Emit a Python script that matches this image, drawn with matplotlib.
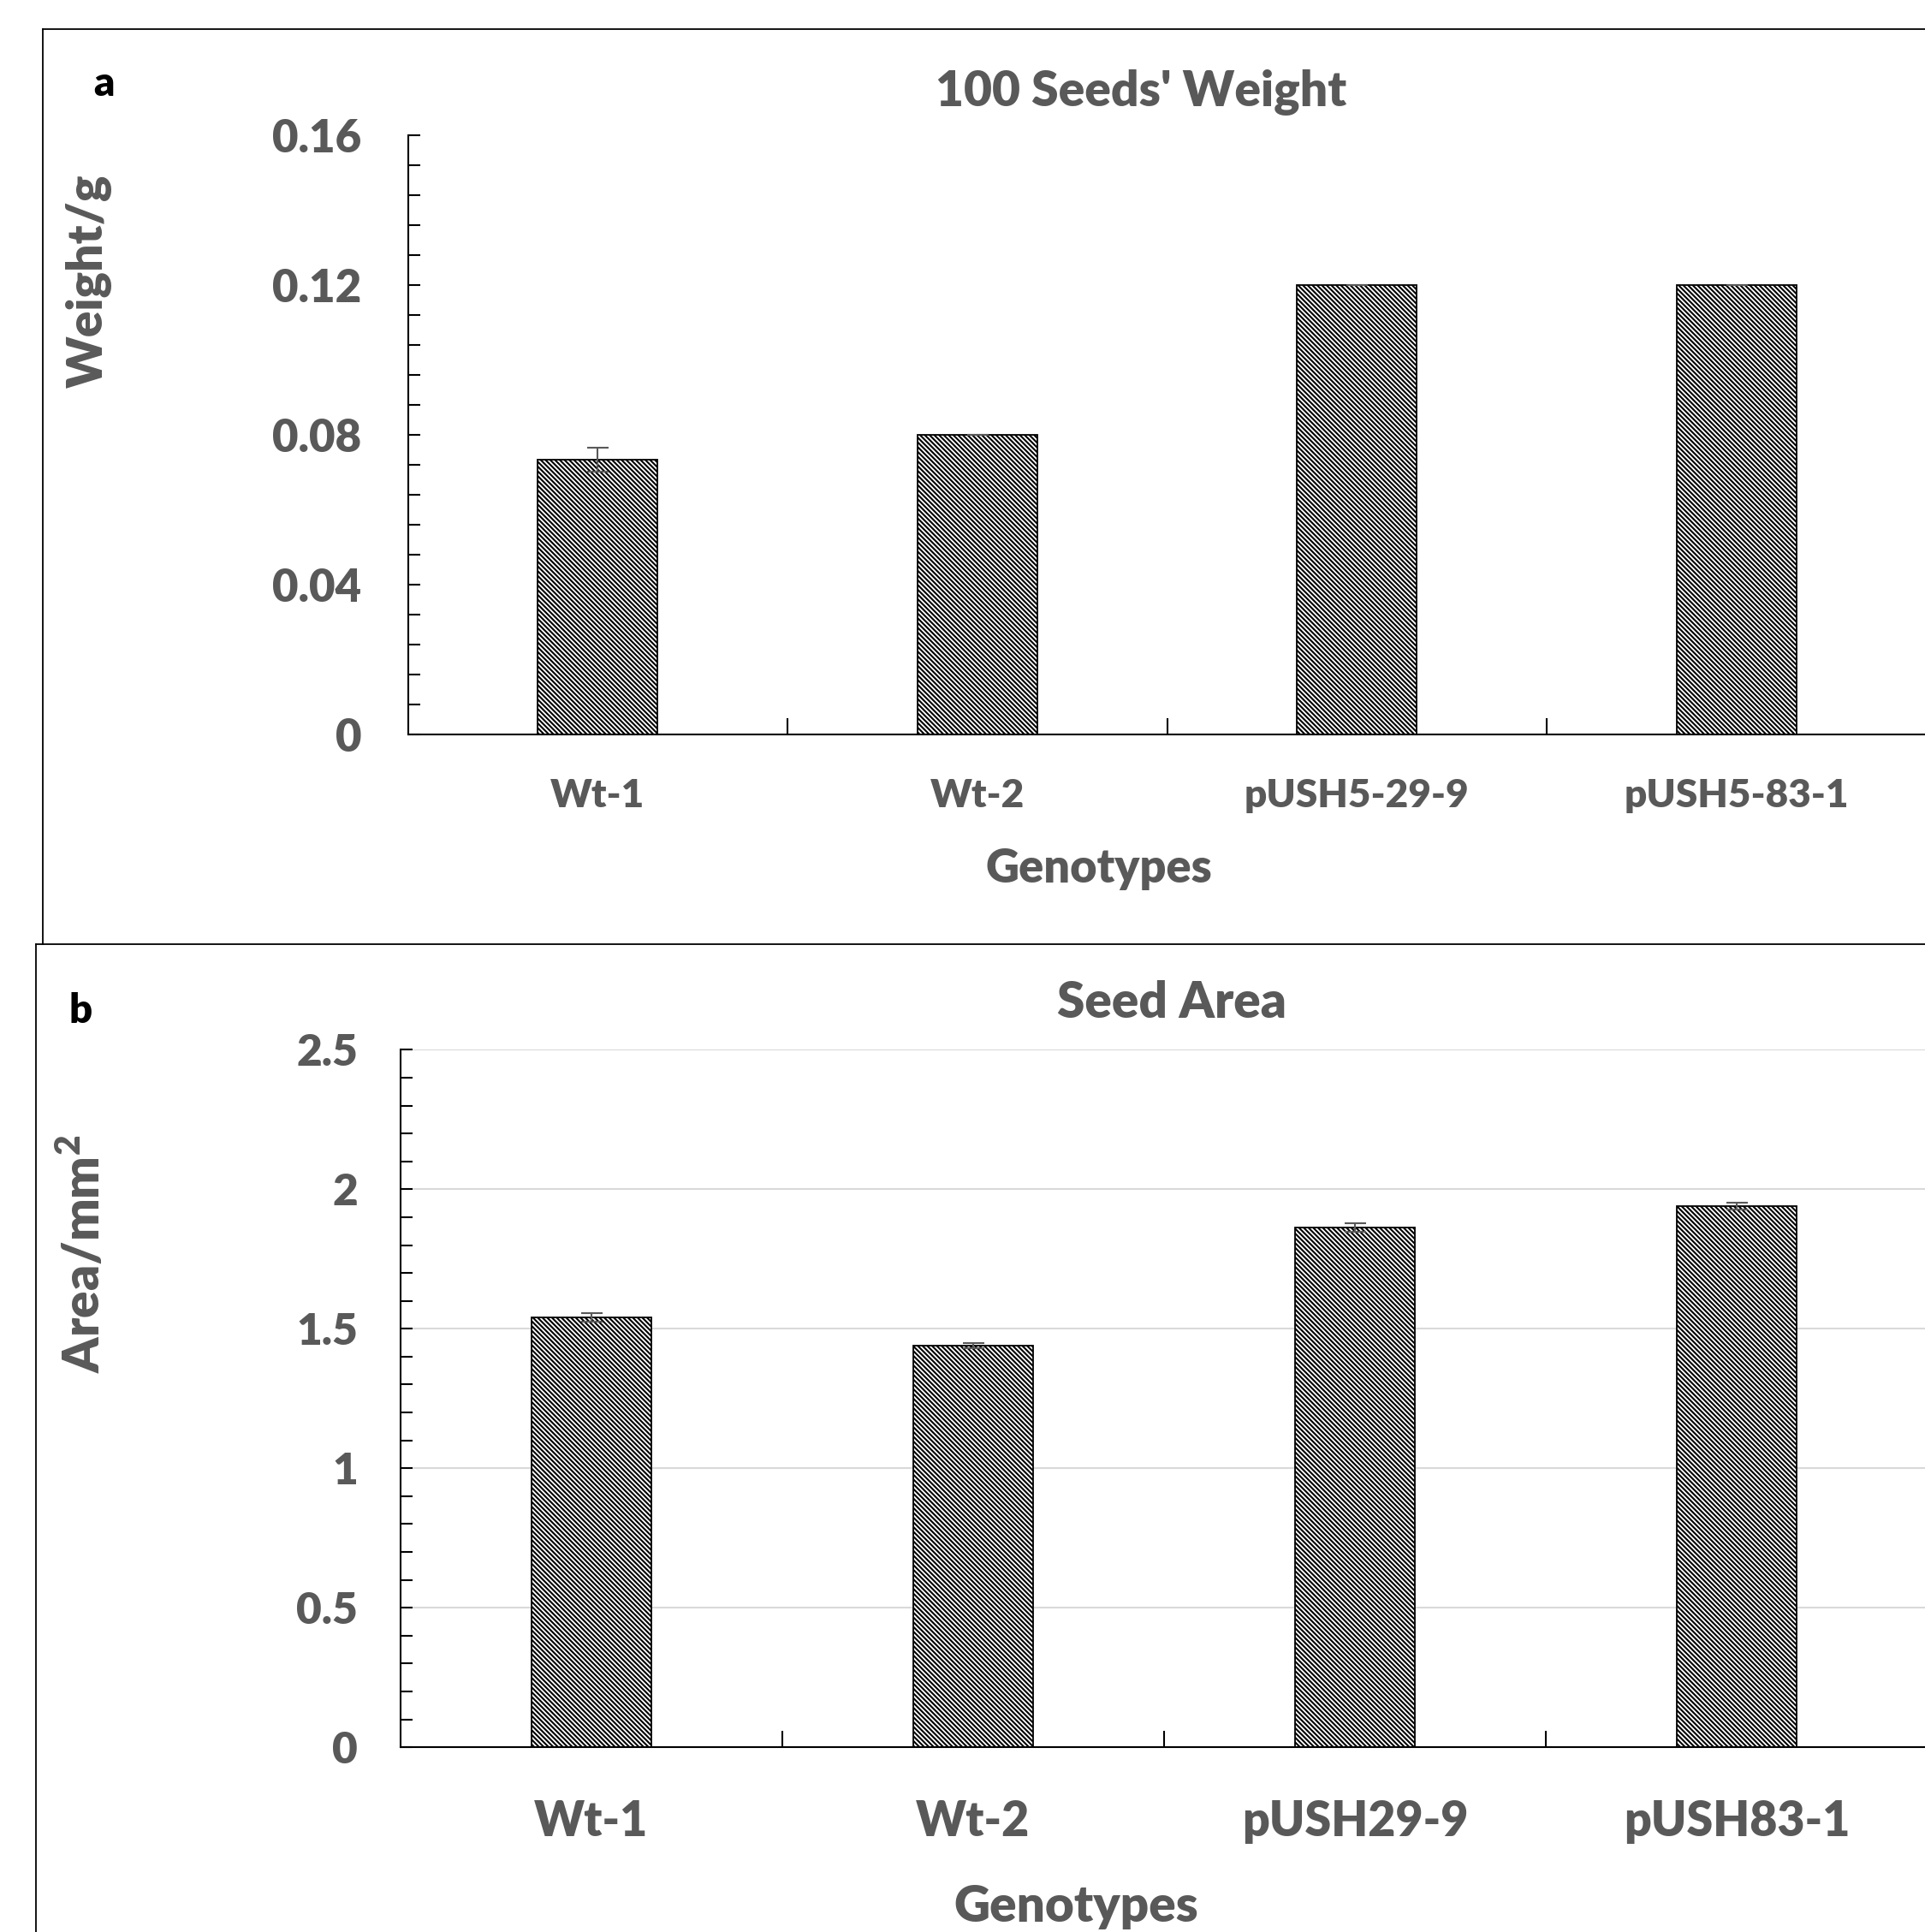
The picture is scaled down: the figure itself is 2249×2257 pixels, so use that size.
import matplotlib
matplotlib.use("Agg")
import matplotlib.pyplot as plt
from matplotlib.lines import Line2D
from matplotlib.ticker import MultipleLocator

# data
genotypes_a = ["Wt-1", "Wt-2", "pUSH5-29-9", "pUSH5-83-1"]
weight = [0.0734, 0.080, 0.120, 0.120]
weight_err = [0.0033, 0.0, 0.0, 0.0]
weight_ticks = [0, 0.04, 0.08, 0.12, 0.16]
weight_ticklabels = ["0", "0.04", "0.08", "0.12", "0.16"]

genotypes_b = ["Wt-1", "Wt-2", "pUSH29-9", "pUSH83-1"]
area = [1.541, 1.440, 1.864, 1.939]
area_err = [0.016, 0.010, 0.015, 0.012]
area_ticks = [0, 0.5, 1, 1.5, 2, 2.5]
area_ticklabels = ["0", "0.5", "1", "1.5", "2", "2.5"]

W, H = 2249, 2257
GREY = "#595959"
FONT = "Lato"
WT = "heavy"

plt.rcParams["hatch.linewidth"] = 1.5
plt.rcParams["font.family"] = [FONT, "DejaVu Sans"]
plt.rcParams["font.weight"] = WT
plt.rcParams["mathtext.fontset"] = "custom"
plt.rcParams["mathtext.bf"] = FONT + ":heavy"

fig = plt.figure(figsize=(W / 100, H / 100), dpi=100)


def fx(px):
    return px / W


def fy(py):
    return 1 - py / H


def axes_box(left, top, right, bottom):
    return [fx(left), fy(bottom), fx(right) - fx(left), fy(top) - fy(bottom)]


def draw_panel(ax, names, vals, errs, ymax, minor, ticks, ticklabels,
               ytick_size, ytick_pad, xlab_size, xlab_off_px, grid):
    x = list(range(len(names)))
    ax.bar(x, vals, width=0.315, color="white", edgecolor="black",
           linewidth=1.3, hatch="\\" * 6, zorder=2)
    ax.errorbar(x, vals, yerr=errs, fmt="none", ecolor=GREY, elinewidth=1.5,
                capsize=9, capthick=1.5, zorder=3)
    ax.set_xlim(-0.5, len(names) - 0.5)
    ax.set_ylim(0, ymax)
    for s in ["top", "right"]:
        ax.spines[s].set_visible(False)
    for s in ["left", "bottom"]:
        ax.spines[s].set_linewidth(1.5)
    ax.set_yticks(ticks)
    ax.set_yticklabels(ticklabels)
    ax.yaxis.set_minor_locator(MultipleLocator(minor))
    ax.tick_params(axis="y", which="both", direction="in", length=10, width=1.5,
                   labelsize=ytick_size, labelcolor=GREY, pad=ytick_pad)
    ax.set_xticks([i + 0.5 for i in x[:-1]])
    ax.set_xticklabels([])
    ax.set_xticks(x, minor=True)
    ax.tick_params(axis="x", which="major", direction="in", length=13.5, width=1.5)
    ax.tick_params(axis="x", which="minor", direction="in", length=8.5, width=1.5)
    hpx = ax.get_position().height * H
    for i, n in enumerate(names):
        ax.text(i, -xlab_off_px / hpx, n, transform=ax.get_xaxis_transform(),
                ha="center", va="baseline", fontsize=xlab_size, color=GREY,
                fontweight=WT)
    if grid:
        ax.yaxis.grid(True, which="major", color="#d9d9d9", linewidth=1.5, zorder=0)
        ax.set_axisbelow(True)


# panel a
ax1 = fig.add_axes(axes_box(476.6, 158.3, 2250.4, 857.9))
draw_panel(ax1, genotypes_a, weight, weight_err, 0.16, 0.008, weight_ticks,
           weight_ticklabels, 38, 39, 33, 85, False)

# panel b
ax2 = fig.add_axes(axes_box(468, 1226.4, 2251.9, 2041.1))
draw_panel(ax2, genotypes_b, area, area_err, 2.5, 0.1, area_ticks,
           area_ticklabels, 37, 36, 40, 104, True)

# texts
fig.text(fx(121), fy(112), "a", ha="center", va="baseline", fontsize=34,
         color="black", fontweight=WT)
fig.text(fx(1333), fy(124), "100 Seeds' Weight", ha="center", va="baseline",
         fontsize=41, color=GREY, fontweight=WT)
fig.text(fx(104), fy(328), "Weight/g", ha="center", va="center", rotation=90,
         fontsize=41, color=GREY, fontweight=WT)
fig.text(fx(1284), fy(1031), "Genotypes", ha="center", va="baseline",
         fontsize=39, color=GREY, fontweight=WT)

fig.text(fx(94), fy(1195), "b", ha="center", va="baseline", fontsize=34,
         color="black", fontweight=WT)
fig.text(fx(1369), fy(1189), "Seed Area", ha="center", va="baseline",
         fontsize=42, color=GREY, fontweight=WT)
fig.text(fx(96), fy(1465), "Area/mm$^\\mathbf{2}$", ha="center", va="center",
         rotation=90, fontsize=42, color=GREY, fontweight=WT)
fig.text(fx(1257), fy(2245), "Genotypes", ha="center", va="baseline",
         fontsize=42, color=GREY, fontweight=WT)

# panel frames
lw = 1.3
fig.add_artist(Line2D([fx(50), fx(50)], [fy(34), fy(1103)], color="black", lw=lw))
fig.add_artist(Line2D([fx(50), 1.01], [fy(34), fy(34)], color="black", lw=lw))
fig.add_artist(Line2D([fx(42), 1.01], [fy(1103), fy(1103)], color="black", lw=lw))
fig.add_artist(Line2D([fx(42), fx(42)], [fy(1103), -0.01], color="black", lw=lw))

fig.savefig("out.png", dpi=100)
